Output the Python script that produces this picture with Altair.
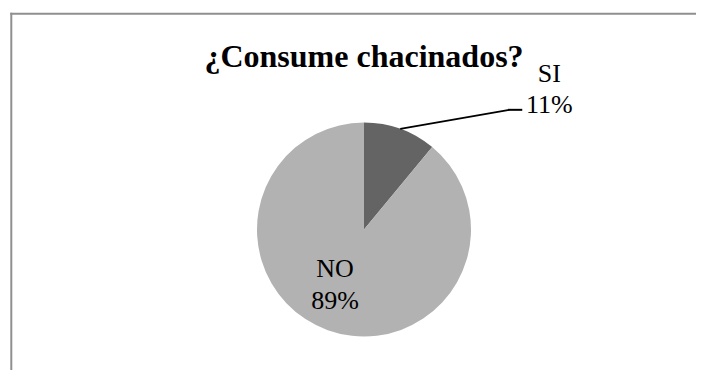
import altair as alt
import pandas as pd

# ---- data ----
categories = ["SI", "NO"]
values = [11, 89]
pct_labels = ["11%", "89%"]
slice_order = [0, 1]
colors = ["#646464", "#b2b2b2"]
title_text = "¿Consume chacinados?"

# ---- layout constants ----
W, H = 688, 362
CX, CY, R = 356, 221.5, 107
FONT = "'Liberation Serif', 'Times New Roman', Times, serif"

df = pd.DataFrame({"cat": categories, "value": values, "pct": pct_labels, "order": slice_order})
one = pd.DataFrame({"t": [title_text]})

base = alt.Chart(df)

pie = base.mark_arc(outerRadius=R).encode(
    theta=alt.Theta("value:Q", stack=True),
    color=alt.Color("cat:N", scale=alt.Scale(domain=categories, range=colors), legend=None),
    order=alt.Order("order:Q"),
    x=alt.value(CX),
    y=alt.value(CY),
)

geo = (
    base.transform_joinaggregate(total="sum(value)")
    .transform_window(cum="sum(value)", sort=[alt.SortField("order")])
    .transform_calculate(mid="(datum.cum - datum.value/2) / datum.total * 2 * PI")
    .transform_calculate(
        ex=f"{CX} + {R}*sin(datum.mid)",
        ey=f"{CY} - {R}*cos(datum.mid)",
        ix=f"{CX} + {R*0.5}*sin(datum.mid)",
        iy=f"{CY} - {R*0.5}*cos(datum.mid)",
    )
    .transform_calculate(lx="datum.ex + 109", ly="datum.ey - 19", lx2="datum.ex + 121")
)

XS = lambda f: alt.X(f"{f}:Q", scale=None, axis=None)
YS = lambda f: alt.Y(f"{f}:Q", scale=None, axis=None)

si = geo.transform_filter("datum.cat == 'SI'")
no = geo.transform_filter("datum.cat == 'NO'")

lead1 = si.mark_rule(color="black", strokeWidth=1.8).encode(
    x=XS("ex"), y=YS("ey"), x2=alt.X2("lx:Q"), y2=alt.Y2("ly:Q")
)
lead2 = si.mark_rule(color="black", strokeWidth=2, strokeCap="square").encode(
    x=XS("lx"), y=YS("ly"), x2=alt.X2("lx2:Q"), y2=alt.Y2("ly:Q")
)

txt = dict(font=FONT, fontSize=26, align="center", baseline="alphabetic", color="black")
si_name = si.mark_text(dx=149, dy=-46.8, **txt).encode(x=XS("ex"), y=YS("ey"), text="cat:N")
si_pct = si.mark_text(dx=149, dy=-15.8, **txt).encode(x=XS("ex"), y=YS("ey"), text="pct:N")
no_name = no.mark_text(dx=-10.9, dy=-2.8, **txt).encode(x=XS("ix"), y=YS("iy"), text="cat:N")
no_pct = no.mark_text(dx=-10.9, dy=29.2, **txt).encode(x=XS("ix"), y=YS("iy"), text="pct:N")

title = alt.Chart(one).mark_text(
    font=FONT, fontSize=32, fontWeight="bold", align="center", baseline="alphabetic", color="black"
).encode(x=alt.value(CX), y=alt.value(59), text="t:N")

border_v = alt.Chart(one).mark_rule(color="#8f8f8f", strokeWidth=2).encode(
    x=alt.value(3.3), y=alt.value(4.7), y2=alt.value(H)
)
border_h = alt.Chart(one).mark_rule(color="#8f8f8f", strokeWidth=2).encode(
    x=alt.value(2.3), x2=alt.value(W), y=alt.value(5.7)
)

chart = (
    alt.layer(border_v, border_h, pie, lead1, lead2, si_name, si_pct, no_name, no_pct, title)
    .properties(width=W, height=H, autosize=alt.AutoSizeParams(type="none"), padding=0, background="white")
    .configure_view(stroke=None)
)

chart.save("out.html", embed_options={"renderer": "svg", "actions": False})
